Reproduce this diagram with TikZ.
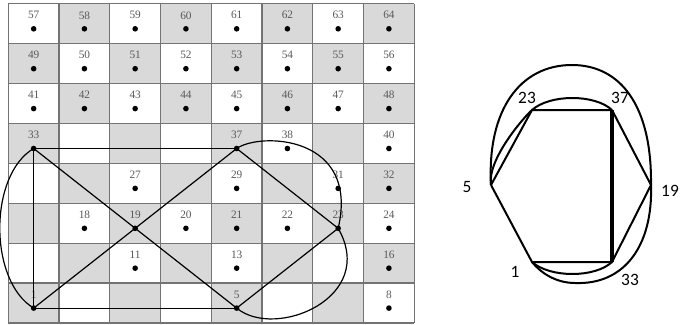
\documentclass[tikz,border=0pt]{standalone}
\usepackage{fontspec}
\usepackage{xcolor}
\newfontfamily\labelfont{Carlito}
\newfontfamily\cellfont{Liberation Serif}

\begin{document}
\begin{tikzpicture}[x=0.75pt, y=-0.75pt,
  gridline/.style={draw=black!55, line width=1pt},
  shaded/.style={fill=black!15},
  num/.style={font=\cellfont\fontsize{8.5}{8.5}\selectfont, text=black!65, inner sep=0pt},
  pt/.style={circle, fill=black, inner sep=0pt, minimum size=4.2pt},
  ledge/.style={line width=0.9pt},
  redge/.style={line width=1.5pt},
  lbl/.style={font=\labelfont\fontsize{13}{13}\selectfont, inner sep=0pt}
]
  \useasboundingbox (0,0) rectangle (694,325);

  % Checkerboard cells (row r from the bottom, column c from the left)
  \foreach \r in {0,...,7}
    \foreach \c in {0,...,7} {
      \pgfmathtruncatemacro{\parity}{mod(\r+\c,2)}
      \ifnum\parity=0
        \fill[shaded] ({8.3+50.75*\c}, {323-39.9*\r}) rectangle ++(50.75,-39.9);
      \fi
    }
  \foreach \c in {0,...,8}
    \draw[gridline] ({8.3+50.75*\c}, 323) -- ({8.3+50.75*\c}, 3.8);
  \foreach \r in {0,...,8}
    \draw[gridline] (8.3, {323-39.9*\r}) -- (414.3, {323-39.9*\r});

  % Numbered cells with their dots
  \foreach \n in {1,5,8,11,13,16,18,19,...,24,27,29,31,32,33,37,38,40,41,...,64} {
    \pgfmathtruncatemacro{\c}{mod(\n-1,8)}
    \pgfmathtruncatemacro{\r}{floor((\n-1)/8)}
    \node[num] (n\n) at ({8.3+50.75*(\c+0.5)}, {323-39.9*(\r+1)+11.5}) {\n};
    \node[pt]  (d\n) at ({8.3+50.75*(\c+0.5)}, {323-39.9*(\r+1)+25}) {};
  }

  % Left figure: hexagon, diagonals and closed curve
  \draw[ledge] (d33.center) -- (d37.center);
  \draw[ledge] (d33.center) -- (d1.center) -- (d5.center);
  \draw[ledge] (d33.center) -- (d5.center);
  \draw[ledge] (d1.center) -- (d37.center);
  \draw[ledge] (d37.center) -- (d23.center) -- (d5.center);
  \draw[ledge] (d33.center) .. controls (-11.5,175) and (-11.5,281) .. (d1.center);
  \draw[ledge] (d5.center) .. controls (275,340) and (378,298) .. (d23.center)
                           .. controls (360,135) and (260,132) .. (d37.center);

  % Right figure: vertices
  \coordinate (r5)  at (491,185);
  \coordinate (r23) at (532,110);
  \coordinate (r37) at (612,110);
  \coordinate (r19) at (651,185);
  \coordinate (r33) at (612,262);
  \coordinate (r1)  at (532,262);
  \coordinate (rtop) at (572,65);
  \coordinate (rbot) at (575,283);

  \draw[redge] (r5) -- (r23) -- (r37);
  \draw[redge] (r37) -- (r19) -- (r33) -- (r1) -- (r5);
  \draw[line width=2.3pt] (r37) -- (r33);
  \draw[redge] (r5) .. controls (487,160) and (523,118) .. (r23)
                    .. controls (550,94) and (595,94) .. (r37);
  \draw[redge] (r1) .. controls (550,278) and (595,278) .. (r33);
  \draw[redge] (r5) .. controls (487,110) and (520,65) .. (rtop)
                    .. controls (620,65) and (652,105) .. (r19)
                    .. controls (653,245) and (625,285) .. (rbot)
                    .. controls (555,283) and (540,272) .. (r1);

  % Labels
  \node[lbl] (l23) at (527,98)  {23};
  \node[lbl] (l37) at (620,98)  {37};
  \node[lbl] (l5)  at (467,187) {5};
  \node[lbl] (l19) at (670,191) {19};
  \node[lbl] (l1)  at (515,272) {1};
  \node[lbl] (l33) at (630,280) {33};
\end{tikzpicture}
\end{document}
